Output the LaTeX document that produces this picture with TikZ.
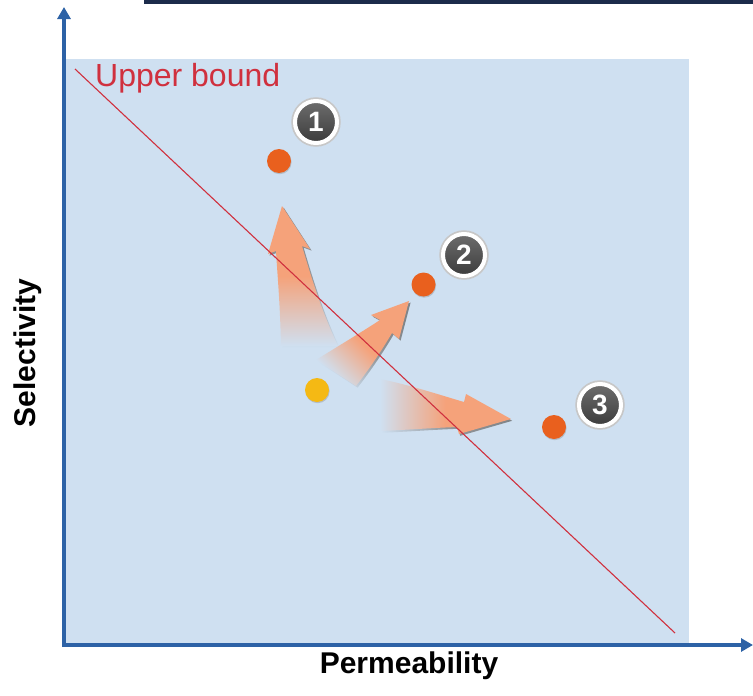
\documentclass[tikz,border=0pt]{standalone}
\usepackage{fontspec}
\setmainfont{Liberation Sans}
\usetikzlibrary{arrows.meta,shadows}
\definecolor{axisblue}{HTML}{2D62A6}
\definecolor{panel}{HTML}{CFE0F1}
\definecolor{navy}{HTML}{1C2B4B}
\definecolor{boundred}{HTML}{D0303E}
\definecolor{peach}{HTML}{F5A27A}
\definecolor{dotorange}{HTML}{E9601E}
\definecolor{dotyellow}{HTML}{F5B914}
\definecolor{badgegray}{HTML}{3C3C3C}

\tikzset{
  axisline/.style={draw=axisblue, line width=3.6pt,
    -{Triangle[length=12pt,width=13pt]}},
  boundline/.style={draw=boundred, line width=1.1pt},
  dot/.style={circle, inner sep=0pt, minimum size=24pt,
    drop shadow={shadow xshift=0.6pt, shadow yshift=-1.2pt, opacity=0.35}},
  badge/.style={circle, inner sep=0pt, minimum size=42pt,
    draw=white, line width=4pt,
    top color=badgegray!75, bottom color=badgegray,
    preaction={draw=black!22, line width=7.5pt},
    text=white, font=\fontsize{28}{28}\bfseries\selectfont},
  axislabel/.style={font=\fontsize{30}{30}\bfseries\selectfont, inner sep=0pt},
  arrowbody/.style={shade, top color=peach, bottom color=panel, middle color=peach, shading angle=#1},
  arrowshadow/.style={shade, top color=black!60, bottom color=panel, middle color=black!50, shading angle=#1, opacity=0.75},
}

\newcommand{\arrowone}{(282,206) -- (310,249) -- (302,246)
  .. controls (312,280) and (322,312) .. (338,346) -- (281,346)
  .. controls (280,300) and (277,270) .. (276,251) -- (268,254) -- cycle}
\newcommand{\arrowtwo}{(409,301) -- (399,339) -- (392,333)
  .. controls (382,350) and (370,368) .. (356,386) -- (316,360)
  .. controls (340,345) and (365,330) .. (380,320) -- (371,315) -- cycle}
\newcommand{\arrowthree}{(511,419) -- (459,434) -- (457,427)
  .. controls (430,428) and (405,430) .. (380,431) -- (380,379)
  .. controls (410,385) and (440,395) .. (464,402) -- (466,394) -- cycle}

\begin{document}
\begin{tikzpicture}[x=1pt,y=-1pt]
\useasboundingbox (0,0) rectangle (753,696);

% header rule and plotting panel
\fill[navy] (144,0) rectangle (753,3.5);
\fill[panel] (66,59) rectangle (689,643);

% axes
\coordinate (O) at (64,645);
\coordinate (Ytip) at (64,7);
\coordinate (Xtip) at (753,645);
\draw[axisline] (64,647) -- (Ytip);
\draw[axisline] (62,645) -- (Xtip);

% improvement arrows (shadow first, then body)
\path[arrowshadow=0] [shift={(1.6,1.6)}] \arrowone;
\path[arrowbody=0] \arrowone;
\path[arrowshadow=-45] [shift={(1.6,1.6)}] \arrowtwo;
\path[arrowbody=-45] \arrowtwo;
\path[arrowshadow=-90] [shift={(1.2,1.8)}] \arrowthree;
\path[arrowbody=-90] \arrowthree;

% upper bound line and label
\coordinate (ubA) at (75,69);
\coordinate (ubB) at (675,633);
\draw[boundline] (ubA) -- (ubB);
\node[anchor=base west, inner sep=0pt, text=boundred,
  font=\fontsize{32}{32}\selectfont] (ublabel) at (95,86) {Upper bound};

% membranes
\node[dot, fill=dotyellow] (start) at (317,390) {};
\node[dot, fill=dotorange] (m1) at (279,161) {};
\node[dot, fill=dotorange] (m2) at (423.5,284.5) {};
\node[dot, fill=dotorange] (m3) at (554,427) {};

% numbered badges
\node[badge] (b1) at (316,122) {1};
\node[badge] (b2) at (464,255) {2};
\node[badge] (b3) at (600,405) {3};

% axis labels
\node[axislabel, rotate=90] (ylabel) at (28,353) {Selectivity};
\node[axislabel, anchor=base] (xlabel) at (409,673) {Permeability};
\end{tikzpicture}
\end{document}
